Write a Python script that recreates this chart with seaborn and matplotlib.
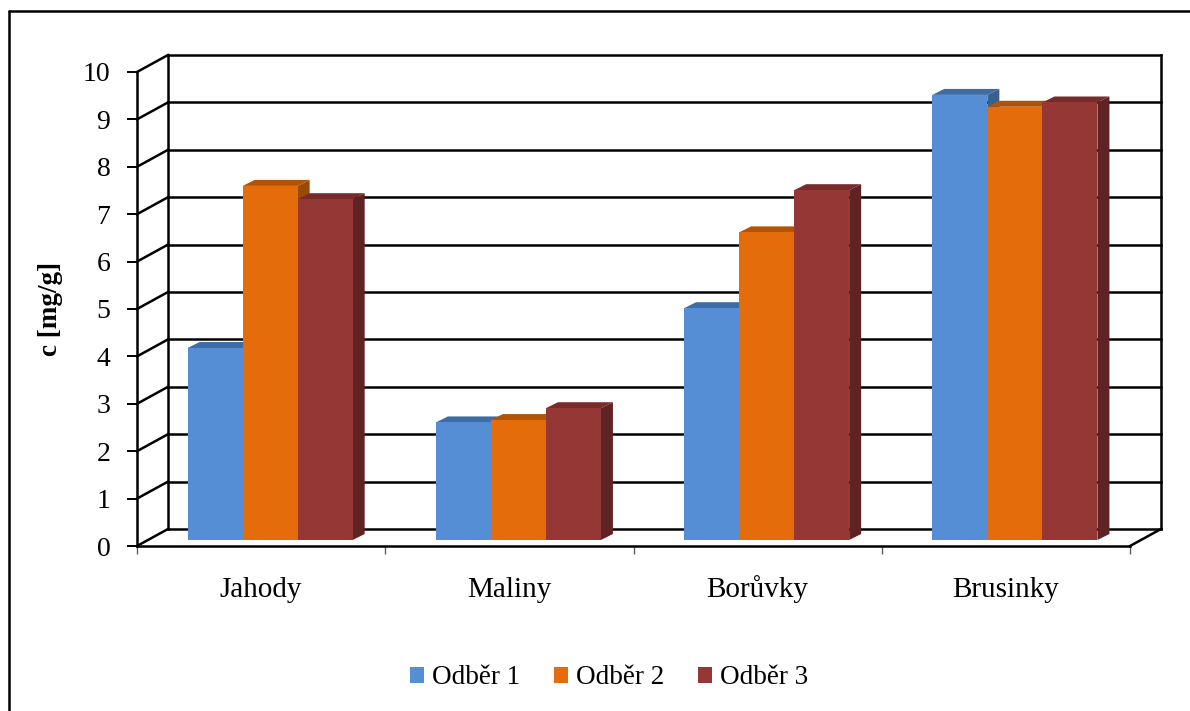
import numpy as np
import pandas as pd
import matplotlib
matplotlib.use("Agg")
import matplotlib.pyplot as plt
from matplotlib.colors import to_rgba
from matplotlib.lines import Line2D
from matplotlib.patches import Polygon
import seaborn as sns

# --- data -----------------------------------------------------------------
ovoce = ["Jahody", "Maliny", "Borůvky", "Brusinky"]
serie = ["Odběr 1", "Odběr 2", "Odběr 3"]
odber_1 = [4.05, 2.48, 4.89, 9.39]
odber_2 = [7.47, 2.53, 6.49, 9.14]
odber_3 = [7.19, 2.78, 7.38, 9.23]
y_ticks = list(range(0, 11))

# front, top and side colours of each series
barvy = ["#558ED5", "#E46C0A", "#953735"]
barvy_vrch = ["#3F6CA5", "#B25407", "#772C2B"]
barvy_bok = ["#36608F", "#9A4A06", "#5E2322"]

df = pd.DataFrame({
    "ovoce": ovoce * len(serie),
    "odber": np.repeat(serie, len(ovoce)),
    "c": odber_1 + odber_2 + odber_3,
})

sns.set_theme(style="white")
plt.rcParams["font.family"] = ["Liberation Serif", "DejaVu Serif"]
plt.rcParams["text.color"] = "black"
plt.rcParams["axes.labelcolor"] = "black"
plt.rcParams["xtick.color"] = "black"
plt.rcParams["ytick.color"] = "black"

W, H = 1190, 711
fig = plt.figure(figsize=(W / 100, H / 100), dpi=100)
fig.patch.set_facecolor("white")

# axes = front plane of the pseudo-3D box
ax = fig.add_axes([137 / W, 1 - 546 / H, 993 / W, 474 / H])
ax.set_facecolor("none")

sns.barplot(data=df, x="ovoce", y="c", hue="odber", hue_order=serie,
            palette=barvy, saturation=1, width=0.665, gap=0,
            errorbar=None, linewidth=0, ax=ax)

ax.set_xlim(-0.5, 3.5)
ax.set_ylim(0, 10)

PX = 993 / 4.0      # pixels per category
PY = 474 / 10.0     # pixels per unit of c
# depth offsets (in data units)
back_dx, back_dy = 31 / PX, 17 / PY      # back wall
bar_dx, bar_dy = 9 / PX, 6 / PY          # plane of the bar fronts
depth_dx, depth_dy = 12 / PX, 6 / PY     # thickness of a bar

# --- walls and gridlines ----------------------------------------------------
wall = dict(color="black", lw=1.8, clip_on=False, zorder=1,
            solid_capstyle="projecting")
x_l, x_r = -0.5, 3.5
for v in y_ticks:
    ax.plot([x_l, x_l + back_dx], [v, v + back_dy], **wall)
    ax.plot([x_l + back_dx, x_r + back_dx], [v + back_dy, v + back_dy], **wall)
ax.plot([x_l + back_dx] * 2, [back_dy, 10 + back_dy], **wall)
ax.plot([x_r + back_dx] * 2, [back_dy, 10 + back_dy], **wall)
ax.plot([x_r, x_r + back_dx], [0, back_dy], **wall)

# --- 3D bars ------------------------------------------------------------------
bars = [p for p in ax.patches if p.get_height() > 0]
bars.sort(key=lambda p: p.get_x())
rgba = [to_rgba(c) for c in barvy]
for k, p in enumerate(bars):
    fc = p.get_facecolor()
    s = int(np.argmin([sum((a - b) ** 2 for a, b in zip(fc, c)) for c in rgba]))
    p.set_x(p.get_x() + bar_dx)
    p.set_y(bar_dy)
    x0, w, h, y0 = p.get_x(), p.get_width(), p.get_height(), p.get_y()
    z = 3 + k * 0.01
    p.set_zorder(z + 0.005)
    top = Polygon([(x0, y0 + h), (x0 + w, y0 + h),
                   (x0 + w + depth_dx, y0 + h + depth_dy),
                   (x0 + depth_dx, y0 + h + depth_dy)],
                  closed=True, facecolor=barvy_vrch[s], edgecolor="none",
                  zorder=z)
    side = Polygon([(x0 + w, y0), (x0 + w + depth_dx, y0 + depth_dy),
                    (x0 + w + depth_dx, y0 + h + depth_dy), (x0 + w, y0 + h)],
                   closed=True, facecolor=barvy_bok[s], edgecolor="none",
                   zorder=z)
    ax.add_patch(side)
    ax.add_patch(top)

# --- axes, ticks, labels ----------------------------------------------------
for name in ["top", "right"]:
    ax.spines[name].set_visible(False)
for name in ["left", "bottom"]:
    ax.spines[name].set_color("black")
    ax.spines[name].set_linewidth(1.8)

ax.set_yticks(y_ticks)
ax.tick_params(axis="y", left=True, length=7.2, width=1.4, pad=12,
               labelsize=20, direction="out")
ax.set_xticks(range(len(ovoce)))
ax.set_xticklabels(ovoce)
ax.set_xticks(np.arange(-0.5, 4.0, 1.0), minor=True)
ax.tick_params(axis="x", which="major", bottom=False, length=0, pad=37,
               labelsize=21)
ax.tick_params(axis="x", which="minor", bottom=True, length=5.8, width=1.0,
               color="#606060", direction="out")
# category names share one baseline
for lab in ax.get_xticklabels():
    lab.set_verticalalignment("baseline")

ax.set_xlabel("")
ax.set_ylabel("c [mg/g]", fontsize=19.5, fontweight="bold")
ax.yaxis.set_label_coords(-0.0745, 0.5)

sns.move_legend(ax, "center", bbox_to_anchor=(609 / W, 1 - 678 / H),
                bbox_transform=fig.transFigure, ncol=3, frameon=False,
                title=None, fontsize=19.5, handlelength=0.52, handleheight=0.52,
                handletextpad=0.3, columnspacing=1.25)

# chart area border
fig.add_artist(Line2D([9 / W, 9 / W], [0, 1 - 11 / H], transform=fig.transFigure,
                      color="black", lw=1.8))
fig.add_artist(Line2D([9 / W, 1], [1 - 11 / H, 1 - 11 / H],
                      transform=fig.transFigure, color="black", lw=1.8))

fig.savefig("out.png", dpi=100, facecolor="white")
